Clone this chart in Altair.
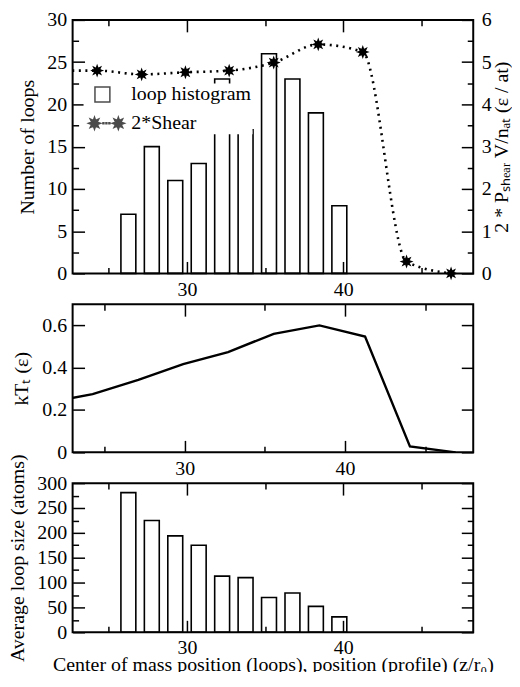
import math
import altair as alt
import pandas as pd

# ---------------- data ----------------
hist_center = [26.25, 27.75, 29.25, 30.75, 32.25, 33.75, 35.25, 36.75, 38.25, 39.75]
loop_count = [7, 15, 11, 13, 23, 17, 26, 23, 19, 8]
loop_size = [281, 225, 194, 175, 113, 110, 70, 79, 52, 31]

prof_pos = [21.4, 24.25, 27.1, 29.9, 32.7, 35.55, 38.4, 41.25, 44.05, 46.9]
shear2 = [4.8, 4.8, 4.71, 4.76, 4.8, 4.99, 5.42, 5.24, 0.28, 0.0]
kT_t = [0.234, 0.275, 0.342, 0.417, 0.474, 0.56, 0.60, 0.547, 0.028, 0.0]

series = ["loop histogram", "2*Shear"]

x_labels = [30, 40]
x_ticks = [25, 30, 35, 40, 45]
y1_labels = [0, 5, 10, 15, 20, 25, 30]
y1_ticks = [0, 2.5, 5, 7.5, 10, 12.5, 15, 17.5, 20, 22.5, 25, 27.5, 30]
ys_labels = [0, 1, 2, 3, 4, 5, 6]
ys_ticks = [0, 0.5, 1, 1.5, 2, 2.5, 3, 3.5, 4, 4.5, 5, 5.5, 6]
y2_labels = [0, 0.2, 0.4, 0.6]
y3_labels = [0, 50, 100, 150, 200, 250, 300]
y3_ticks = [0, 25, 50, 75, 100, 125, 150, 175, 200, 225, 250, 275, 300]

# ---------------- styling ----------------
FONT = "Liberation Serif"
W = 403
H1, H2, H3 = 255, 149, 150
X_DOMAIN = [23, 48]

hist_df = pd.DataFrame({"pos": hist_center, "count": loop_count, "size": loop_size})
prof_df = pd.DataFrame({"pos": prof_pos, "shear": shear2, "kT": kT_t})
legend_df = pd.DataFrame({"series": series})


def star_path(cx, r_out, r_in, n=8):
    pts = []
    for k in range(2 * n):
        r = r_out if k % 2 == 0 else r_in
        a = math.pi * k / n - math.pi / 2
        pts.append(f"{cx + r * math.cos(a):.3f},{r * math.sin(a):.3f}")
    return "M" + "L".join(pts) + "Z"


STAR = star_path(0, 1, 0.5)
dots = "".join(f"M{x - 0.08:.2f},-0.08h0.16v0.16h-0.16Z" for x in (1.5, 2.0, 2.5))
SHEAR_SYMBOL = star_path(0, 1, 0.5) + dots + star_path(4.0, 1, 0.5)
SQUARE_SYMBOL = "M0.08,-1.25H2.58V1.25H0.08Z"


def axis_common(**kw):
    base = dict(domain=False, grid=False, labelFont=FONT, labelFontSize=20,
                labelColor="black", titleFont=FONT, titleFontSize=20,
                titleColor="black", titleFontWeight="normal", tickColor="black",
                tickWidth=1.5, labelOverlap=False, labelFlush=False)
    base.update(kw)
    return alt.Axis(**base)


def label_axis(orient, values, title=None, pad=6, **kw):
    return axis_common(orient=orient, values=values, ticks=False, tickSize=0,
                       labelPadding=pad, title=title, **kw)


def tick_axis(orient, offset, values, test=None):
    if test is None:
        ts = 12
    else:
        ts = {"condition": {"test": test, "value": 12}, "value": 6}
    return axis_common(orient=orient, offset=offset, values=values, labels=False,
                       title=None, ticks=True, tickSize=ts)


xscale = alt.Scale(domain=X_DOMAIN, nice=False, zero=False)
XTEST = "datum.value % 10 === 0"

# ---------------- top panel ----------------
ys1 = alt.Scale(domain=[0, 30], nice=False)
yss = alt.Scale(domain=[0, 6], nice=False)

bars1 = alt.Chart(hist_df).mark_bar(filled=False, color="black", strokeWidth=1.6, size=15).encode(
    x=alt.X("pos:Q", scale=xscale, axis=label_axis("bottom", x_labels)),
    y=alt.Y("count:Q", scale=ys1, axis=label_axis("left", y1_labels, title="Number of loops",
                                                  titleX=-45, titleBaseline="middle")),
)
t1a = alt.Chart(hist_df).mark_point(opacity=0).encode(
    x=alt.X("pos:Q", scale=xscale, axis=tick_axis("top", -H1, x_ticks, XTEST)),
    y=alt.Y("count:Q", scale=ys1, axis=tick_axis("right", -W, y1_ticks, "datum.value % 5 === 0")),
)
t1b = alt.Chart(hist_df).mark_point(opacity=0).encode(
    x=alt.X("pos:Q", scale=xscale, axis=tick_axis("bottom", -H1, x_ticks, XTEST)),
    y=alt.Y("count:Q", scale=ys1, axis=None),
)
leg = alt.Legend(title=None, orient="none", legendX=11, legendY=64, direction="vertical",
                 labelFont=FONT, labelFontSize=20, labelColor="black", labelOffset=27,
                 fillColor="white", padding=1, rowPadding=8, symbolStrokeColor="black",
                 symbolStrokeWidth=1.5, symbolSize=144)
legend_layer = alt.Chart(legend_df).transform_filter("false").mark_point(
    filled=True, size=144, stroke="black", strokeWidth=1.5
).encode(
    color=alt.Color("series:N", scale=alt.Scale(domain=series, range=["white", "black"]), legend=leg),
    shape=alt.Shape("series:N", scale=alt.Scale(domain=series, range=[SQUARE_SYMBOL, SHEAR_SYMBOL]), legend=leg),
)
inner1 = alt.layer(bars1, t1a, t1b, legend_layer).resolve_axis(x="independent", y="independent")

shear_line = alt.Chart(prof_df).mark_line(
    clip=True, color="black", strokeWidth=2.6, strokeDash=[2, 4.6], interpolate="monotone"
).encode(
    x=alt.X("pos:Q", scale=xscale, axis=None),
    y=alt.Y("shear:Q", scale=yss, axis=label_axis(
        "right", ys_labels, title="2 * Pₛₕₑₐᵣ V/nₐₜ (ε / at)", pad=8,
        titleX=28, titleAngle=270, titleBaseline="middle")),
)
stars = alt.Chart(prof_df).transform_filter(f"datum.pos >= {X_DOMAIN[0]}").mark_point(
    shape=STAR, size=196, filled=True, color="black", opacity=1
).encode(
    x=alt.X("pos:Q", scale=xscale, axis=None),
    y=alt.Y("shear:Q", scale=yss, axis=None),
)
tR = alt.Chart(prof_df).mark_point(opacity=0).encode(
    x=alt.X("pos:Q", scale=xscale, axis=None),
    y=alt.Y("shear:Q", scale=yss, axis=tick_axis("left", -W, ys_ticks, "datum.value % 1 === 0")),
)
inner2 = alt.layer(shear_line, stars, tR).resolve_axis(y="independent")
top = alt.layer(inner1, inner2).resolve_scale(y="independent").properties(width=W, height=H1)

# ---------------- middle panel ----------------
ys2 = alt.Scale(domain=[0, 0.7], nice=False)
kt_line = alt.Chart(prof_df).mark_line(clip=True, color="black", strokeWidth=2.4).encode(
    x=alt.X("pos:Q", scale=xscale, axis=label_axis("bottom", x_labels)),
    y=alt.Y("kT:Q", scale=ys2, axis=label_axis("left", y2_labels, title="kTₜ (ε)", format="~g",
                                               titleX=-51, titleBaseline="middle")),
)
t2a = alt.Chart(prof_df).mark_point(opacity=0).encode(
    x=alt.X("pos:Q", scale=xscale, axis=tick_axis("top", -H2, x_ticks, XTEST)),
    y=alt.Y("kT:Q", scale=ys2, axis=tick_axis("right", -W, y2_labels)),
)
t2b = alt.Chart(prof_df).mark_point(opacity=0).encode(
    x=alt.X("pos:Q", scale=xscale, axis=tick_axis("bottom", -H2, x_ticks, XTEST)),
    y=alt.Y("kT:Q", scale=ys2, axis=tick_axis("left", -W, y2_labels)),
)
mid = alt.layer(kt_line, t2a, t2b).resolve_axis(x="independent", y="independent").properties(
    width=W, height=H2)

# ---------------- bottom panel ----------------
ys3 = alt.Scale(domain=[0, 300], nice=False)
bars3 = alt.Chart(hist_df).mark_bar(filled=False, color="black", strokeWidth=1.6, size=15).encode(
    x=alt.X("pos:Q", scale=xscale, axis=label_axis(
        "bottom", x_labels, title="Center of mass position (loops), position (profile) (z/r₀)",
        pad=5, titlePadding=-3)),
    y=alt.Y("size:Q", scale=ys3, axis=label_axis("left", y3_labels, title="Average loop size (atoms)",
                                                 titleX=-55, titleBaseline="middle")),
)
t3a = alt.Chart(hist_df).mark_point(opacity=0).encode(
    x=alt.X("pos:Q", scale=xscale, axis=tick_axis("top", -H3, x_ticks, XTEST)),
    y=alt.Y("size:Q", scale=ys3, axis=tick_axis("right", -W, y3_ticks, "datum.value % 50 === 0")),
)
t3b = alt.Chart(hist_df).mark_point(opacity=0).encode(
    x=alt.X("pos:Q", scale=xscale, axis=tick_axis("bottom", -H3, x_ticks, XTEST)),
    y=alt.Y("size:Q", scale=ys3, axis=tick_axis("left", -W, y3_ticks, "datum.value % 50 === 0")),
)
bot = alt.layer(bars3, t3a, t3b).resolve_axis(x="independent", y="independent").properties(
    width=W, height=H3)

chart = alt.vconcat(top, mid, bot, spacing=31, bounds="flush").configure_view(
    stroke="black", strokeWidth=2
).properties(padding={"left": -2, "top": -1, "right": 0, "bottom": -5}, background="white")

chart.save("out.html", embed_options={"renderer": "svg", "actions": False})
